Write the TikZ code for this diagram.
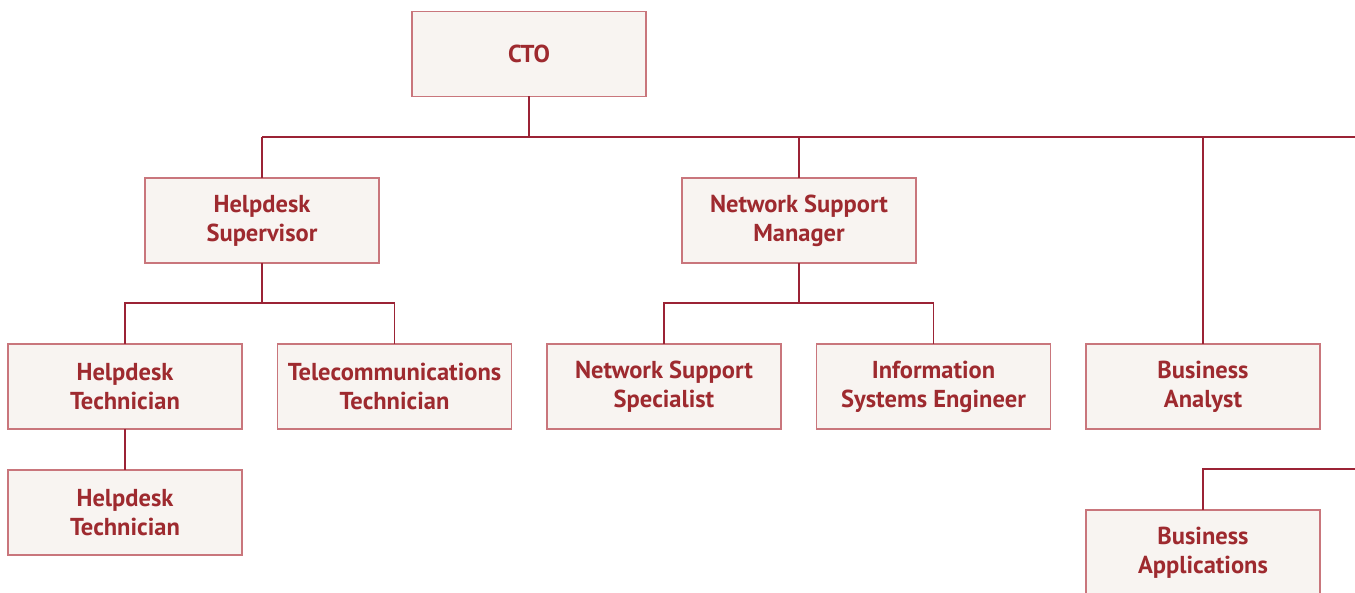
\documentclass[tikz,border=0pt]{standalone}
\usepackage{fontspec}
\setmainfont{PT Sans}
\usepackage{tikz}
\usetikzlibrary{positioning}
\usepackage{xcolor}
\definecolor{boxtext}{HTML}{9E2A2F}
\definecolor{boxline}{HTML}{C9767C}
\definecolor{boxfill}{HTML}{F8F4F1}
\definecolor{wire}{HTML}{9B2335}

\tikzset{
  role/.style={draw=boxline, fill=boxfill, line width=1.2pt,
    minimum width=234pt, minimum height=85pt, inner sep=0pt, outer sep=0pt,
    align=center, text=boxtext,
    font=\fontsize{24.5}{29}\selectfont\bfseries},
  link/.style={draw=wire, line width=1.1pt}
}

\begin{document}
\begin{tikzpicture}[x=1pt,y=-1pt]
    \useasboundingbox (0,0) rectangle (1355,593);
    % top of the chart
        \node[role] (cto) at (529,54) {CTO};
        \node[role] (hsup) at (262,220.5) {Helpdesk\\Supervisor};
        \node[role] (nsm) at (799,220.5) {Network Support\\Manager};
    % third row
        \node[role] (htech) at (125,386.5) {Helpdesk\\Technician};
		\node[role,
			right=35.5pt of htech
			] (ttech) {Telecommunications\\Technician};
		\node[role,
			right=35.5pt of ttech
			] (nspec) {Network Support\\Specialist};
		\node[role,
			right=35.5pt of nspec
			] (iseng) {Information\\Systems Engineer};
		\node[role,
			right=35.5pt of iseng
			] (banalyst) {Business\\Analyst};
    % bottom row
		\node[role,
			below=41pt of htech
			] (htechb) {Helpdesk\\Technician};
		\node[role,
			below=81pt of banalyst
			] (bapps) {Business\\Applications};
		\coordinate (busend) at (1355,137);
		\coordinate (feed) at (1355,469);

    % connectors
        \draw[link] (cto.south) -- ++(0,41) -| (hsup.north);
        \draw[link] (cto.south) ++(0,41) -| (nsm.north);
        \draw[link] (cto.south) ++(0,41) -| (banalyst.north);
        \draw[link] (hsup.north |- busend) -- (busend);
        \draw[link] (hsup.south) -- ++(0,40) -| (htech.north);
        \draw[link] (hsup.south) ++(0,40) -| (ttech.north);
        \draw[link] (nsm.south) -- ++(0,40) -| (nspec.north);
        \draw[link] (nsm.south) ++(0,40) -| (iseng.north);
        \draw[link] (htech.south) -- (htechb.north);
        \draw[link] (feed) -| (bapps.north);
    \end{tikzpicture}
\end{document}
